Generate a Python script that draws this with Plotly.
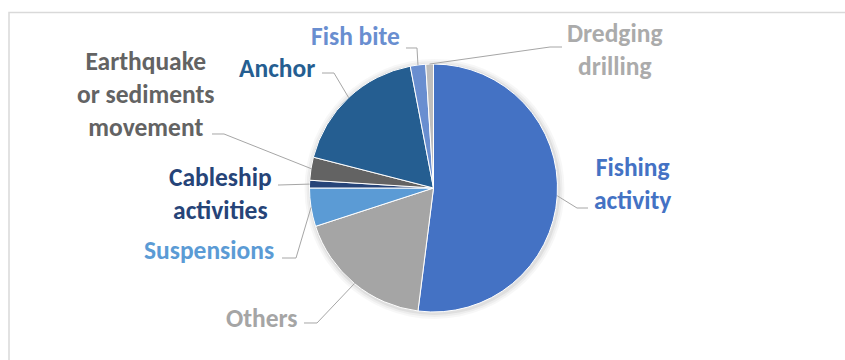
import math
import plotly.graph_objects as go

W, H = 845, 360

# Causes of submarine cable faults (share of incidents, %)
labels = ["Fishing activity", "Others", "Suspensions", "Cableship activities",
          "Earthquake or sediments movement", "Anchor", "Fish bite", "Dredging drilling"]
values = [52, 18, 5, 1, 3, 18, 2, 1]
colors = ["#4472C4", "#A5A5A5", "#5B9BD5", "#264478",
          "#636363", "#255E91", "#698ED0", "#BDBDBD"]
text_colors = ["#4472C4", "#A5A5A5", "#5B9BD5", "#264478",
               "#636363", "#255E91", "#698ED0", "#ABABAB"]
label_text = ["Fishing<br>activity", "Others", "Suspensions", "Cableship<br>activities",
              "Earthquake<br>or sediments<br>movement", "Anchor", "Fish bite", "Dredging<br>drilling"]

# label block centres and leader-line elbow / end points (pixels)
label_pos = [(632, 184), (262, 318), (209, 250), (220, 194),
             (146, 95), (277, 68), (355, 37), (615, 50)]
leader_elbow = [(577, 208), (317, 323), (296, 258), (279, 185),
                (224, 134), (334, 73), (417, 48), (550, 47)]
leader_end = [(588, 208), (304, 323), (282, 258), (278, 185),
              (212, 134), (322, 73), (406, 48), (562, 47)]

# pie geometry in pixels
cx, cy, r = 433.5, 188.0, 124.0


def px(x):
    return x / W


def py(y):
    return 1 - y / H


fig = go.Figure(go.Pie(
    labels=labels,
    values=values,
    sort=False,
    direction="clockwise",
    rotation=0,
    marker=dict(colors=colors, line=dict(color="white", width=1)),
    textinfo="none",
    hoverinfo="label+percent",
    showlegend=False,
    domain=dict(x=[px(cx - r), px(cx + r)], y=[py(cy + r), py(cy - r)]),
))

shapes = []
# soft shadow under the pie
for k, op in [(6, 0.03), (4, 0.04), (2, 0.06)]:
    shapes.append(dict(type="circle", xref="paper", yref="paper",
                       x0=px(cx - r - k + 1), x1=px(cx + r + k + 1),
                       y0=py(cy + r + k + 1), y1=py(cy - r - k + 1),
                       fillcolor="rgba(0,0,0,%s)" % op, line=dict(width=0),
                       layer="below"))

# chart frame
shapes.append(dict(type="rect", xref="paper", yref="paper",
                   x0=px(9), x1=px(W + 5), y0=py(H + 5), y1=py(12.5),
                   line=dict(color="#D9D9D9", width=1.5), layer="below"))

annotations = []
total = sum(values)
acc = 0.0
for i, v in enumerate(values):
    mid = (acc + v / 2) / total * 360.0
    acc += v
    # point on the outer arc at the slice's middle angle
    ax = cx + r * math.sin(math.radians(mid))
    ay = cy - r * math.cos(math.radians(mid))
    ex, ey = leader_elbow[i]
    tx, ty = leader_end[i]
    shapes.append(dict(type="path", xref="paper", yref="paper",
                       path="M %f %f L %f %f L %f %f" % (px(ax), py(ay), px(ex), py(ey), px(tx), py(ty)),
                       line=dict(color="#A6A6A6", width=1)))
    lx, ly = label_pos[i]
    annotations.append(dict(text="<b>%s</b>" % label_text[i], xref="paper", yref="paper",
                            x=px(lx), y=py(ly), xanchor="center", yanchor="middle",
                            showarrow=False, align="center",
                            font=dict(family="Carlito, Lato, sans-serif", size=25.5,
                                      color=text_colors[i])))

fig.update_layout(
    width=W, height=H,
    margin=dict(l=0, r=0, t=0, b=0),
    paper_bgcolor="white",
    plot_bgcolor="white",
    shapes=shapes,
    annotations=annotations,
)

fig.write_html("out.html")
